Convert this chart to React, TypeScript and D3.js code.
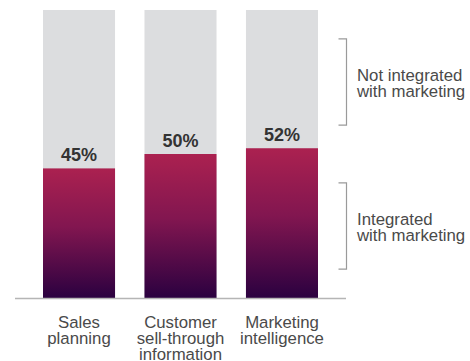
import React, { useEffect, useRef } from "react";
import * as d3 from "d3";

// categories (multi-line labels) and share integrated with marketing
const categories = ["Sales planning", "Customer sell-through information", "Marketing intelligence"];
const categoryLines = [["Sales", "planning"], ["Customer", "sell-through", "information"], ["Marketing", "intelligence"]];
const integrated = [0.45, 0.5, 0.52];
const labels = ["45%", "50%", "52%"];

// bracket annotations (value ranges on the 0..1 scale)
const brackets = [
  { from: 0.6, to: 0.9, lines: ["Not integrated", "with marketing"] },
  { from: 0.1, to: 0.4, lines: ["Integrated", "with marketing"] },
];

const W = 470, H = 361;
const FONT = "'Liberation Sans', Arial, Helvetica, sans-serif";

export default function App() {
  const ref = useRef<SVGSVGElement>(null);

  useEffect(() => {
    const svg = d3.select(ref.current);
    svg.selectAll("*").remove();

    const x = d3.scaleBand().domain(categories).range([43, 318]).paddingInner(0.29).paddingOuter(0);
    const y = d3.scaleLinear().domain([0, 1]).range([298, 10]);

    const defs = svg.append("defs");
    const grad = defs.append("linearGradient")
      .attr("id", "barGrad")
      .attr("x1", 0).attr("y1", 0).attr("x2", 0).attr("y2", 1);
    grad.append("stop").attr("offset", "0%").attr("stop-color", "#ab2150");
    grad.append("stop").attr("offset", "45%").attr("stop-color", "#821650");
    grad.append("stop").attr("offset", "100%").attr("stop-color", "#2b0140");

    const data = categories.map((c, i) => ({ c, v: integrated[i], label: labels[i], lines: categoryLines[i] }));

    // grey background (100%)
    svg.append("g").selectAll("rect")
      .data(data)
      .join("rect")
      .attr("x", d => x(d.c)!)
      .attr("width", x.bandwidth())
      .attr("y", y(1))
      .attr("height", y(0) - y(1))
      .attr("fill", "#dcdddf");

    // integrated part
    svg.append("g").selectAll("rect")
      .data(data)
      .join("rect")
      .attr("x", d => x(d.c)!)
      .attr("width", x.bandwidth())
      .attr("y", d => y(d.v))
      .attr("height", d => y(0) - y(d.v))
      .attr("fill", "url(#barGrad)");

    // value labels
    svg.append("g").selectAll("text")
      .data(data)
      .join("text")
      .attr("x", d => x(d.c)! + x.bandwidth() / 2)
      .attr("y", d => y(d.v) - 7)
      .attr("text-anchor", "middle")
      .attr("font-family", FONT)
      .attr("font-weight", "bold")
      .attr("font-size", 18)
      .attr("fill", "#333")
      .text(d => d.label);

    // baseline
    const [r0, r1] = x.range();
    svg.append("line")
      .attr("x1", r0 - 28).attr("x2", r1 + 28)
      .attr("y1", y(0) + 0.5).attr("y2", y(0) + 0.5)
      .attr("stroke", "#b5b5b5")
      .attr("stroke-width", 1.5);

    // category labels
    const cat = svg.append("g").selectAll("text")
      .data(data)
      .join("text")
      .attr("x", d => x(d.c)! + x.bandwidth() / 2)
      .attr("y", y(0) + 29.5)
      .attr("text-anchor", "middle")
      .attr("font-family", FONT)
      .attr("font-size", 16.8)
      .attr("fill", "#4a4a4a");
    cat.selectAll("tspan")
      .data(d => d.lines)
      .join("tspan")
      .attr("x", function () { return (d3.select((this as any).parentNode).attr("x")); })
      .attr("dy", (_d, i) => (i === 0 ? 0 : 16))
      .text(d => d);

    // brackets
    const bx = r1 + 28.5;
    const bg = svg.append("g");
    brackets.forEach(b => {
      const yt = y(b.to), yb = y(b.from);
      bg.append("path")
        .attr("d", `M${bx - 8},${yt}H${bx}V${yb}H${bx - 8}`)
        .attr("fill", "none")
        .attr("stroke", "#9a9a9a")
        .attr("stroke-width", 1.2);
      const mid = (yt + yb) / 2;
      const t = bg.append("text")
        .attr("font-family", FONT)
        .attr("font-size", 16.8)
        .attr("fill", "#4a4a4a");
      b.lines.forEach((l, i) => {
        t.append("tspan")
          .attr("x", bx + 10.5)
          .attr("y", mid - 1 + i * 16)
          .text(l);
      });
    });
  }, []);

  return (
    <svg
      ref={ref}
      width={W}
      height={H}
      style={{ position: "absolute", left: 0, top: 0, background: "#fff" }}
    />
  );
}
